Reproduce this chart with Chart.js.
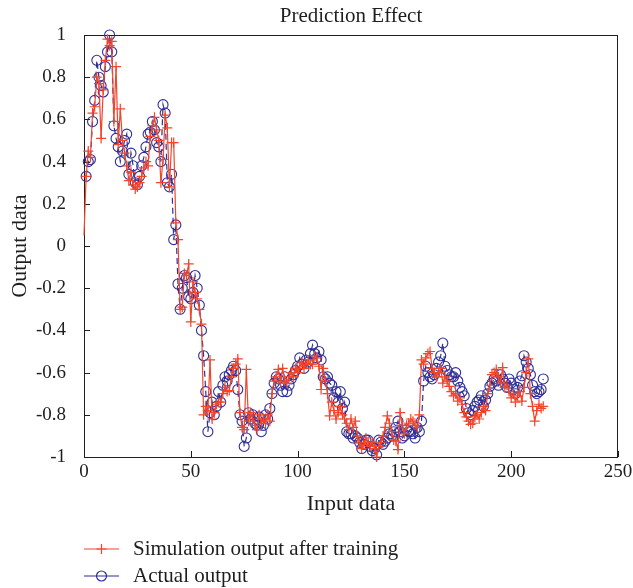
<!DOCTYPE html>
<html>
<head>
<meta charset="utf-8">
<title>Prediction Effect</title>
<script src="https://cdn.jsdelivr.net/npm/chart.js@4.4.1/dist/chart.umd.min.js"></script>
<style>
  body { margin: 0; background: #fff; }
</style>
</head>
<body>
<canvas id="chart" width="633" height="588"></canvas>
<script>
// values, one per sample
const titleText = 'Prediction Effect';
const xLabel = 'Input data';
const yLabel = 'Output data';
const simLabel = 'Simulation output after training';
const actualLabel = 'Actual output';

// simulation output, samples 0..215
const simulated = [
  0.05, 0.33, 0.45, 0.42, 0.63, 0.66, 0.80, 0.77, 0.51, 0.74,
  0.88, 0.98, 0.95, 0.97, 0.59, 0.85, 0.48, 0.65, 0.50, 0.44,
  0.38, 0.31, 0.35, 0.29, 0.27, 0.28, 0.30, 0.33, 0.37, 0.40,
  0.38, 0.52, 0.57, 0.61, 0.55, 0.50, 0.30, 0.41, 0.62, 0.56,
  0.28, 0.49, 0.49, 0.11, 0.03, -0.30, -0.29, -0.13, -0.14, -0.085,
  -0.36, -0.17, -0.22, -0.25, -0.30, -0.37, -0.80, -0.76, -0.78, -0.54,
  -0.82, -0.79, -0.75, -0.74, -0.74, -0.70, -0.67, -0.69, -0.685, -0.62,
  -0.58, -0.56, -0.535, -0.79, -0.86, -0.87, -0.585, -0.83, -0.79, -0.82,
  -0.85, -0.87, -0.80, -0.84, -0.82, -0.84, -0.80, -0.83, -0.70, -0.64,
  -0.62, -0.585, -0.65, -0.58, -0.64, -0.65, -0.62, -0.60, -0.62, -0.58,
  -0.60, -0.57, -0.55, -0.58, -0.56, -0.54, -0.56, -0.56, -0.52, -0.53,
  -0.57, -0.68, -0.58, -0.64, -0.70, -0.805, -0.74, -0.78, -0.82, -0.79,
  -0.76, -0.80, -0.82, -0.84, -0.87, -0.82, -0.86, -0.83, -0.90, -0.93,
  -0.96, -0.94, -0.91, -0.93, -0.95, -0.93, -0.96, -1.00, -0.95, -0.93,
  -0.90, -0.86, -0.805, -0.84, -0.88, -0.92, -0.925, -0.965, -0.79, -0.85,
  -0.89, -0.85, -0.84, -0.82, -0.83, -0.85, -0.86, -0.80, -0.54, -0.56,
  -0.53, -0.51, -0.50, -0.58, -0.60, -0.62, -0.60, -0.58, -0.65, -0.62,
  -0.64, -0.665, -0.69, -0.71, -0.70, -0.735, -0.72, -0.75, -0.79, -0.81,
  -0.83, -0.845, -0.84, -0.81, -0.80, -0.82, -0.79, -0.76, -0.78, -0.70,
  -0.66, -0.61, -0.60, -0.585, -0.62, -0.65, -0.576, -0.67, -0.66, -0.69,
  -0.72, -0.70, -0.74, -0.71, -0.69, -0.735, -0.67, -0.60, -0.535, -0.70,
  -0.76, -0.83, -0.78, -0.75, -0.77, -0.76
];

// actual output, samples 1..215
const actual = [
  0.33, 0.40, 0.41, 0.59, 0.69, 0.88, 0.80, 0.76, 0.73, 0.85,
  0.92, 1.00, 0.92, 0.57, 0.51, 0.47, 0.40, 0.45, 0.50, 0.53,
  0.34, 0.44, 0.38, 0.30, 0.29, 0.33, 0.38, 0.42, 0.47, 0.53,
  0.54, 0.59, 0.55, 0.49, 0.47, 0.40, 0.67, 0.63, 0.30, 0.28,
  0.34, 0.03, 0.10, -0.18, -0.30, -0.20, -0.14, -0.15, -0.24, -0.25,
  -0.22, -0.14, -0.20, -0.28, -0.40, -0.52, -0.69, -0.88, -0.79, -0.74,
  -0.80, -0.76, -0.69, -0.74, -0.66, -0.62, -0.64, -0.61, -0.59, -0.57,
  -0.59, -0.68, -0.80, -0.83, -0.95, -0.91, -0.79, -0.82, -0.80, -0.84,
  -0.85, -0.81, -0.88, -0.85, -0.80, -0.82, -0.77, -0.70, -0.65, -0.62,
  -0.63, -0.66, -0.69, -0.62, -0.69, -0.66, -0.63, -0.61, -0.59, -0.57,
  -0.53, -0.56, -0.58, -0.54, -0.55, -0.51, -0.47, -0.51, -0.53, -0.50,
  -0.54, -0.62, -0.63, -0.62, -0.65, -0.66, -0.72, -0.69, -0.74, -0.69,
  -0.77, -0.74, -0.88, -0.89, -0.89, -0.91, -0.90, -0.91, -0.93, -0.96,
  -0.94, -0.92, -0.92, -0.95, -0.97, -0.96, -0.99, -0.92, -0.93, -0.94,
  -0.925, -0.91, -0.89, -0.90, -0.88, -0.86, -0.83, -0.88, -0.91, -0.90,
  -0.87, -0.88, -0.88, -0.89, -0.91, -0.86, -0.88, -0.83, -0.64, -0.57,
  -0.60, -0.62, -0.63, -0.61, -0.58, -0.55, -0.52, -0.46, -0.57, -0.59,
  -0.61, -0.62, -0.62, -0.60, -0.64, -0.67, -0.69, -0.71, -0.77, -0.79,
  -0.80, -0.78, -0.76, -0.74, -0.73, -0.71, -0.76, -0.73, -0.70, -0.665,
  -0.65, -0.63, -0.64, -0.66, -0.61, -0.63, -0.65, -0.67, -0.63, -0.65,
  -0.68, -0.70, -0.67, -0.64, -0.615, -0.52, -0.55, -0.58, -0.61, -0.66,
  -0.69, -0.70, -0.69, -0.68, -0.63
];

const simStart = 0;
const actualStart = 1;

const RED = '#f2452c';
const BLUE = '#2f2f98';
const INK = '#1e1e1e';
const FONT = '"Liberation Serif", "DejaVu Serif", serif';

// box, inward ticks, title and the two-row legend, matlab style
const frame = {
  id: 'frame',
  beforeDatasetsDraw(chart) {
    const { ctx, chartArea: a, scales: { x, y } } = chart;
    ctx.save();
    ctx.strokeStyle = INK;
    ctx.lineWidth = 1;
    ctx.strokeRect(a.left + 0.5, a.top + 0.5, a.right - a.left - 1, a.bottom - a.top);
    ctx.beginPath();
    x.ticks.forEach(t => {
      const px = Math.round(x.getPixelForValue(t.value)) + 0.5;
      ctx.moveTo(px, a.bottom);
      ctx.lineTo(px, a.bottom - 6);
    });
    y.ticks.forEach(t => {
      const py = Math.round(y.getPixelForValue(t.value)) + 0.5;
      ctx.moveTo(a.left, py);
      ctx.lineTo(a.left + 6, py);
    });
    ctx.stroke();
    ctx.restore();
  },
  afterDraw(chart) {
    const { ctx, chartArea: a } = chart;
    ctx.save();
    ctx.fillStyle = INK;
    ctx.font = '21px ' + FONT;
    ctx.textAlign = 'center';
    ctx.textBaseline = 'alphabetic';
    ctx.fillText(titleText, (a.left + a.right) / 2, 22);

    chart.data.datasets.forEach((ds, i) => {
      const ly = 549 + i * 27;
      ctx.strokeStyle = ds.borderColor;
      ctx.lineWidth = ds.borderWidth;
      ctx.beginPath();
      ctx.moveTo(84, ly);
      ctx.lineTo(119, ly);
      ctx.stroke();
      ctx.beginPath();
      if (ds.pointStyle === 'cross') {
        ctx.moveTo(96.5, ly); ctx.lineTo(106.5, ly);
        ctx.moveTo(101.5, ly - 5); ctx.lineTo(101.5, ly + 5);
      } else {
        ctx.arc(101.5, ly, 5, 0, Math.PI * 2);
      }
      ctx.stroke();
      ctx.fillStyle = INK;
      ctx.font = '21px ' + FONT;
      ctx.textAlign = 'left';
      ctx.textBaseline = 'middle';
      ctx.fillText(ds.label, 133, ly);
    });
    ctx.restore();
  }
};

new Chart(document.getElementById('chart'), {
  type: 'line',
  data: {
    datasets: [{
      label: simLabel,
      data: simulated.map((v, i) => ({ x: simStart + i, y: v })),
      borderColor: RED,
      backgroundColor: 'transparent',
      borderWidth: 1.2,
      pointStyle: 'cross',
      pointRadius: ctx => ctx.dataIndex === 0 ? 0 : 5,
      pointBorderWidth: 1.2,
      pointBorderColor: RED,
      tension: 0,
      clip: false
    }, {
      label: actualLabel,
      data: actual.map((v, i) => ({ x: actualStart + i, y: v })),
      borderColor: BLUE,
      backgroundColor: 'transparent',
      borderWidth: 1.2,
      borderDash: [6, 4],
      pointStyle: 'circle',
      pointRadius: 5,
      pointBorderWidth: 1.1,
      pointBorderColor: BLUE,
      pointBackgroundColor: 'transparent',
      tension: 0,
      clip: false
    }]
  },
  options: {
    responsive: false,
    animation: false,
    events: [],
    layout: { padding: { top: 35, right: 15, bottom: 67, left: 0 } },
    plugins: {
      legend: { display: false },
      title: { display: false },
      tooltip: { enabled: false }
    },
    scales: {
      x: {
        type: 'linear',
        min: 0,
        max: 250,
        grid: { display: false },
        border: { display: false },
        ticks: { stepSize: 50, color: INK, font: { family: FONT, size: 19 }, padding: -4, maxRotation: 0 },
        title: { display: true, text: xLabel, color: INK, font: { family: FONT, size: 22 }, padding: { top: 0, bottom: 4 } },
        afterFit(s) { s.height = 64; }
      },
      y: {
        min: -1,
        max: 1,
        grid: { display: false },
        border: { display: false },
        ticks: {
          stepSize: 0.2, color: INK, font: { family: FONT, size: 19 }, padding: 10,
          callback: v => String(Math.round(v * 10) / 10)
        },
        title: { display: true, text: yLabel, color: INK, font: { family: FONT, size: 22 }, padding: { top: 7, bottom: 0 } },
        afterFit(s) { s.width = 84; }
      }
    }
  },
  plugins: [frame]
});
</script>
</body>
</html>
